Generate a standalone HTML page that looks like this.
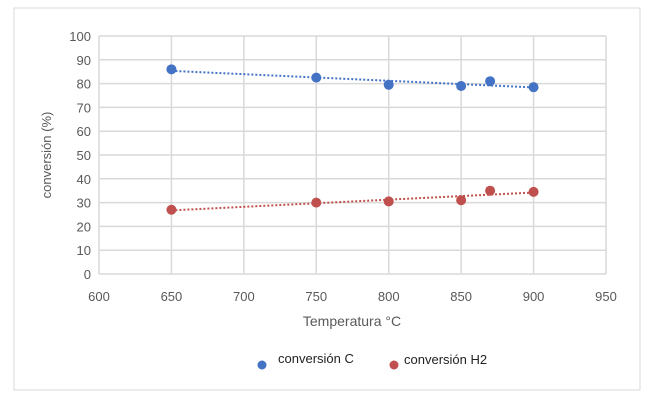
<!DOCTYPE html>
<html><head><meta charset="utf-8"><style>
body{margin:0;background:#fff;font-family:"Liberation Sans",sans-serif}
</style></head><body>
<svg id="c" width="650" height="406" xmlns="http://www.w3.org/2000/svg">
<rect x="14" y="8" width="626" height="382" fill="#fff" stroke="#d9d9d9"/>
<g id="grid"></g><g id="marks"></g>
<text x="0" y="0" transform="translate(51,155) rotate(-90)" text-anchor="middle" font-size="13" fill="#595959">conversión (%)</text>
<text x="352" y="326" text-anchor="middle" font-size="14" fill="#595959">Temperatura °C</text>
<circle cx="262" cy="365" r="4.5" fill="#4472c4"/>
<text x="278" y="363" font-size="13" fill="#222">conversión C</text>
<circle cx="394" cy="365" r="4.5" fill="#c0504d"/>
<text x="404" y="364" font-size="13" fill="#222">conversión H2</text>
</svg>
<script>
const temps=[650,750,800,850,870,900];
const convC=[86,82.5,79.5,79,81,78.5];
const convH2=[27,30,30.5,31,35,34.5];
const xTicks=[600,650,700,750,800,850,900,950];
const yTicks=[0,10,20,30,40,50,60,70,80,90,100];
const NS="http://www.w3.org/2000/svg";
const X=v=>99+(v-600)*(606-99)/350;
const Y=v=>274-v*(274-36)/100;
const grid=document.getElementById('grid'),marks=document.getElementById('marks');
function mk(p,tag,a){const e=document.createElementNS(NS,tag);for(const k in a)e.setAttribute(k,a[k]);p.appendChild(e);return e;}
yTicks.forEach(v=>{
 const l=mk(grid,'line',{x1:X(600),x2:X(950),y1:Y(v),y2:Y(v),stroke:'#d9d9d9','stroke-width':1.5});
 
 
 const t=mk(grid,'text',{x:X(600)-8,y:Y(v)+5,'text-anchor':'end','font-size':13,fill:'#595959'});t.textContent=v;
 
 
});
xTicks.forEach(v=>{
 const l=mk(grid,'line',{x1:X(v),x2:X(v),y1:Y(0),y2:Y(100),stroke:'#d9d9d9','stroke-width':1.5});
 
 
 const t=mk(grid,'text',{x:X(v),y:Y(0)+27,'text-anchor':'middle','font-size':13,fill:'#595959'});t.textContent=v;
 
 
});
function series(ys,col,name){
 const n=temps.length,mx=temps.reduce((a,b)=>a+b)/n,my=ys.reduce((a,b)=>a+b)/n;
 let sxy=0,sxx=0;temps.forEach((x,i)=>{sxy+=(x-mx)*(ys[i]-my);sxx+=(x-mx)*(x-mx);});
 const b=sxy/sxx,a=my-b*mx,x0=temps[0],x1=temps[n-1];
 const tl=mk(marks,'line',{x1:X(x0),y1:Y(a+b*x0),x2:X(x1),y2:Y(a+b*x1),stroke:col,'stroke-width':2,'stroke-dasharray':'2,2'});
 
 
 temps.forEach((x,i)=>{
  const c=mk(marks,'circle',{cx:X(x),cy:Y(ys[i]),r:5,fill:col});
  
  
 });
}
series(convC,'#4472c4','conversion-c');
series(convH2,'#c0504d','conversion-h2');
</script>
</body></html>
